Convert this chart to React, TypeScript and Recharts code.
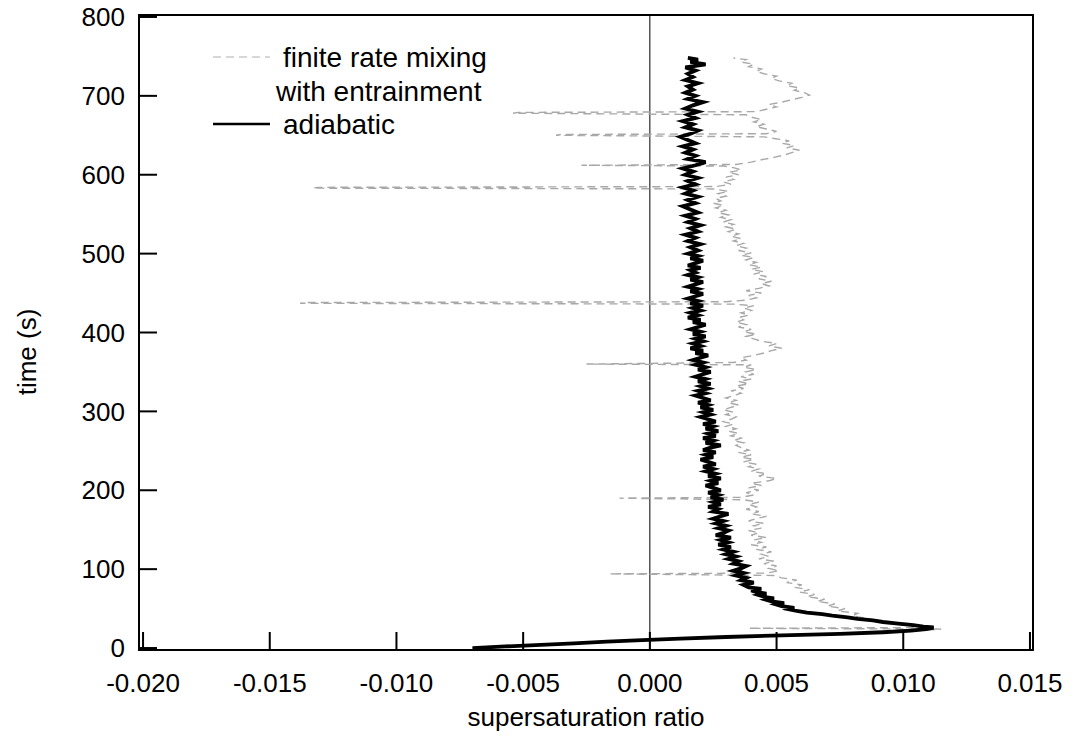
import React from 'react';
import { ScatterChart, Scatter, XAxis, YAxis, ReferenceLine, ReferenceArea, Legend } from 'recharts';

// time (s) vs supersaturation ratio
const adiabaticTime = [
  0, 2, 4, 6, 8, 10, 12, 14, 16, 18, 20, 22, 24, 26, 27, 29, 31, 33, 35, 37, 39, 41, 43, 45, 47, 49,
  51, 53, 55, 57, 59, 61, 63, 65, 67, 69, 71, 73, 75, 77, 80, 83, 86, 89, 92, 95, 98, 101, 104, 107,
  110, 113, 116, 119, 122, 125, 128, 131, 134, 137, 140, 143, 146, 149, 152, 155, 158, 161, 164, 167,
  170, 173, 176, 179, 182, 185, 188, 191, 194, 197, 200, 203, 206, 209, 212, 215, 218, 221, 224, 227,
  230, 233, 236, 239, 242, 245, 248, 251, 254, 257, 260, 263, 266, 269, 272, 275, 278, 281, 284, 287,
  290, 293, 296, 299, 302, 305, 308, 311, 314, 317, 320, 323, 326, 329, 332, 335, 338, 341, 344, 347,
  350, 353, 356, 359, 362, 365, 368, 371, 374, 377, 380, 383, 386, 389, 392, 395, 398, 401, 404, 407,
  410, 413, 416, 419, 422, 425, 428, 431, 434, 437, 440, 443, 446, 449, 452, 455, 458, 461, 464, 467,
  470, 473, 476, 479, 482, 485, 488, 491, 494, 497, 500, 504, 508, 512, 516, 520, 524, 528, 532, 536,
  540, 544, 548, 552, 556, 560, 564, 568, 572, 576, 580, 584, 588, 592, 596, 600, 604, 608, 612, 616,
  620, 624, 628, 632, 636, 640, 644, 648, 652, 656, 660, 664, 668, 672, 676, 680, 684, 688, 692, 696,
  700, 704, 708, 712, 716, 720, 724, 728, 732, 736, 740, 743, 746, 748,
];
const adiabaticRatio = [
  -0.007, -0.0057, -0.0043, -0.003, -0.0017, -0.0003, 0.0012, 0.003, 0.0052, 0.0075, 0.0092, 0.0103, 0.0109, 0.0112, 0.0108, 0.0104, 0.0098, 0.0092, 0.0088, 0.0082, 0.0078, 0.0072, 0.0068, 0.0062, 0.0058, 0.0055,
  0.0057, 0.0052, 0.005, 0.0053, 0.0048, 0.0046, 0.0049, 0.0045, 0.0043, 0.0046, 0.0042, 0.004, 0.0044, 0.0039, 0.0037, 0.0041, 0.0036, 0.0038, 0.0034, 0.0037, 0.0033, 0.0036, 0.0038, 0.0033,
  0.0035, 0.0031, 0.0034, 0.003, 0.0033, 0.0029, 0.0032, 0.0027, 0.0031, 0.0028, 0.0032, 0.0026, 0.0029, 0.0031, 0.0027, 0.003, 0.0026, 0.0029, 0.0025, 0.0028,
  0.0031, 0.0025, 0.0027, 0.0023, 0.0028, 0.0025, 0.0029, 0.0024, 0.0027, 0.0023, 0.0028, 0.0025, 0.0022, 0.0027, 0.0024, 0.0028, 0.0023, 0.0026, 0.0022, 0.0025,
  0.0021, 0.0026, 0.0023, 0.002, 0.0025, 0.0022, 0.0026, 0.0021, 0.0024, 0.0028, 0.0022, 0.0025, 0.0021, 0.0026, 0.0023, 0.0027, 0.0022, 0.0025, 0.0021, 0.0026,
  0.0023, 0.002, 0.0024, 0.0021, 0.0025, 0.002, 0.0023, 0.0019, 0.0024, 0.0021, 0.0018, 0.0022, 0.0019, 0.0023, 0.002, 0.0024, 0.0019, 0.0022, 0.0018, 0.0021,
  0.0024, 0.0019, 0.0022, 0.0018, 0.0021, 0.0017, 0.002, 0.0023, 0.0018, 0.0021, 0.0016, 0.002, 0.0017, 0.0021, 0.0018, 0.0022, 0.0017, 0.002, 0.0016, 0.0019,
  0.0022, 0.0017, 0.002, 0.0015, 0.0019, 0.0016, 0.002, 0.0017, 0.0021, 0.0016, 0.0019, 0.0015, 0.0018, 0.0021, 0.0016, 0.0019, 0.0015, 0.0018, 0.0021, 0.0016,
  0.0019, 0.0015, 0.0018, 0.0016, 0.002, 0.0015, 0.0018, 0.0021, 0.0016, 0.0019, 0.0015, 0.0019, 0.0016, 0.002, 0.0015, 0.0018, 0.0014, 0.0019, 0.0016, 0.002,
  0.0015, 0.0018, 0.0014, 0.0019, 0.0016, 0.0013, 0.0018, 0.0015, 0.0019, 0.0014, 0.0017, 0.0013, 0.0018, 0.0015, 0.0019, 0.0014, 0.0017, 0.0013, 0.0018, 0.0022,
  0.0015, 0.0018, 0.0014, 0.0017, 0.0013, 0.0018, 0.0015, 0.0012, 0.0016, 0.0019, 0.0014, 0.0017, 0.0013, 0.0018, 0.0015, 0.0019, 0.0014, 0.0017, 0.0021, 0.0015,
  0.0018, 0.0014, 0.0017, 0.0015, 0.0019, 0.0014, 0.0017, 0.0015, 0.0018, 0.0014, 0.0022, 0.0016, 0.0019, 0.0015,
];

const mixingTime = [
  0, 4, 8, 12, 16, 20, 22, 24, 25, 26, 29, 32, 35, 38, 41, 44, 47, 50, 53, 56, 59, 62, 65, 68, 71, 74,
  77, 80, 83, 86, 89, 92, 94, 95, 98, 101, 104, 107, 110, 113, 116, 119, 122, 125, 128, 131, 134, 137,
  140, 143, 146, 149, 152, 155, 158, 161, 164, 167, 170, 173, 176, 179, 182, 185, 188, 190, 191, 194,
  197, 200, 203, 206, 209, 212, 215, 218, 221, 224, 227, 230, 233, 236, 239, 242, 245, 248, 251, 254,
  257, 260, 263, 266, 269, 272, 275, 278, 281, 284, 287, 290, 293, 296, 299, 302, 305, 308, 311, 314,
  317, 320, 323, 326, 329, 332, 335, 338, 341, 344, 347, 350, 353, 356, 359, 360, 362, 365, 368, 371,
  374, 377, 380, 383, 386, 389, 392, 395, 398, 401, 404, 407, 410, 413, 416, 419, 422, 425, 428, 431,
  434, 436, 437, 438, 439, 441, 444, 447, 450, 453, 456, 459, 462, 465, 468, 471, 474, 477, 480, 483,
  486, 489, 492, 495, 498, 501, 504, 507, 510, 513, 516, 519, 522, 525, 528, 531, 534, 537, 540, 543,
  546, 549, 552, 555, 558, 561, 564, 567, 570, 573, 576, 579, 582, 583, 584, 585, 588, 591, 594, 597,
  600, 603, 606, 609, 611, 612, 613, 616, 619, 622, 625, 628, 631, 634, 637, 640, 643, 646, 648, 650,
  651, 652, 655, 658, 661, 664, 667, 670, 673, 676, 678, 679, 680, 683, 686, 689, 692, 695, 698, 701,
  704, 707, 710, 713, 716, 719, 722, 725, 728, 731, 734, 737, 740, 743, 746, 748,
];
const mixingRatio = [
  -0.007, -0.0043, -0.0017, 0.0012, 0.0052, 0.0094, 0.0106, 0.0115, 0.0039, 0.0108, 0.0101, 0.0094, 0.0089, 0.0085, 0.008, 0.0082, 0.0074, 0.0077, 0.007, 0.0073, 0.0066, 0.0069, 0.0062, 0.0065, 0.0059, 0.0063,
  0.0057, 0.006, 0.0054, 0.0058, 0.0052, 0.0049, -0.0016, 0.0046, 0.0051, 0.0047, 0.005, 0.0045, 0.0049, 0.0043, 0.0047, 0.0044, 0.0048, 0.0042, 0.0046, 0.004, 0.0044, 0.0041,
  0.0046, 0.004, 0.0043, 0.0039, 0.0044, 0.0041, 0.0045, 0.0039, 0.0042, 0.0046, 0.004, 0.0043, 0.0038, 0.0042, 0.0039, 0.0043, 0.0037, -0.0012, 0.0036, 0.0041,
  0.0038, 0.0043, 0.0039, 0.0044, 0.004, 0.0047, 0.005, 0.0043, 0.0046, 0.004, 0.0043, 0.0039, 0.0042, 0.0037, 0.0041, 0.0036, 0.004, 0.0035, 0.0039, 0.0036,
  0.0034, 0.0037, 0.0033, 0.0036, 0.0032, 0.0035, 0.0031, 0.0034, 0.003, 0.0033, 0.0029, 0.0032, 0.0034, 0.003, 0.0033, 0.0029, 0.0032, 0.0035, 0.0031, 0.0034,
  0.003, 0.0033, 0.0036, 0.0032, 0.0037, 0.0034, 0.0039, 0.0035, 0.004, 0.0036, 0.0041, 0.0038, 0.0042, 0.0037, 0.004, -0.0025, 0.0033, 0.0038, 0.0036, 0.0041,
  0.0045, 0.0048, 0.0052, 0.0047, 0.005, 0.0044, 0.0041, 0.0038, 0.0042, 0.0037, 0.004, 0.0035, 0.0038, 0.0034, 0.0037, 0.0035, 0.0039, 0.0036, 0.004, 0.0037,
  0.0041, 0.0033, -0.0138, -0.0136, 0.003, 0.0038, 0.0042, 0.0039, 0.0044, 0.0038, 0.0043, 0.0047, 0.0044, 0.0048, 0.0043, 0.0046, 0.0041, 0.0045, 0.004, 0.0044,
  0.0039, 0.0042, 0.0038, 0.0041, 0.0036, 0.004, 0.0035, 0.0038, 0.0034, 0.0037, 0.0033, 0.0036, 0.0032, 0.0035, 0.0031, 0.0034, 0.003, 0.0033, 0.0029, 0.0032,
  0.0028, 0.0031, 0.0027, 0.003, 0.0026, 0.0029, 0.0025, 0.0028, 0.0026, 0.003, 0.0027, 0.0031, 0.0025, -0.0133, -0.0131, 0.0026, 0.0032, 0.0029, 0.0033, 0.003,
  0.0035, 0.0031, 0.0036, 0.0033, 0.0029, -0.0027, 0.0034, 0.004, 0.0044, 0.0049, 0.0053, 0.0056, 0.0059, 0.0054, 0.0057, 0.0052, 0.0055, 0.0049, 0.0045, -0.0037,
  -0.0035, 0.0046, 0.005, 0.0046, 0.0042, 0.0045, 0.0041, 0.0044, 0.004, 0.0038, -0.0054, -0.0052, 0.0042, 0.0046, 0.005, 0.0047, 0.0052, 0.0056, 0.006, 0.0063,
  0.0061, 0.0057, 0.0059, 0.0054, 0.0056, 0.0051, 0.0048, 0.005, 0.0045, 0.0042, 0.0044, 0.0039, 0.0041, 0.0036, 0.0038, 0.0033,
];

const ratioTicks = [-0.02, -0.015, -0.01, -0.005, 0, 0.005, 0.01, 0.015];
const timeTicks = [0, 100, 200, 300, 400, 500, 600, 700, 800];

const adiabatic = adiabaticTime.map((t, i) => ({ t, s: adiabaticRatio[i] }));
const mixing = mixingTime.map((t, i) => ({ t, s: mixingRatio[i] }));

// frame sits a few px outside the labelled range, like the original
const X_MIN = -0.02016;
const X_MAX = 0.01512;
const Y_MIN = -2.5;
const Y_MAX = 802.5;

const FONT = 'Liberation Sans, Arial, sans-serif';
const FS = 26;
const LEGEND_FS = 28;
const TICK_LEN = 18;

const XTick = (props: any) => {
  const { x, y, payload } = props;
  return (
    <g>
      <line x1={x} y1={y} x2={x} y2={y - TICK_LEN} stroke="#000" strokeWidth={2} />
      <text x={x} y={y + 33} dy="0.355em" textAnchor="middle" fontSize={FS} fontFamily={FONT} fill="#000">
        {payload.value.toFixed(3)}
      </text>
    </g>
  );
};

const YTick = (props: any) => {
  const { x, y, payload } = props;
  return (
    <g>
      <line x1={x} y1={y} x2={x + TICK_LEN} y2={y} stroke="#000" strokeWidth={2} />
      <text x={x - 14} y={y} dy="0.355em" textAnchor="end" fontSize={FS} fontFamily={FONT} fill="#000">
        {payload.value}
      </text>
    </g>
  );
};

const XTitle = ({ viewBox }: any) => (
  <text x={viewBox.x + viewBox.width / 2} y={viewBox.y + 67} dy="0.355em" textAnchor="middle"
    fontSize={FS} fontFamily={FONT} fill="#000">
    supersaturation ratio
  </text>
);

const YTitle = ({ viewBox }: any) => {
  const cx = viewBox.x - 12;
  const cy = viewBox.y + 337;
  return (
    <text x={cx} y={cy} dy="0.355em" textAnchor="middle" transform={`rotate(-90 ${cx} ${cy})`}
      fontSize={FS} fontFamily={FONT} fill="#000">
      time (s)
    </text>
  );
};

const LegendBox = () => (
  <svg width={520} height={140} style={{ overflow: 'visible' }}>
    <line x1={213} y1={57} x2={270} y2={57} stroke="#b0b0b0" strokeWidth={1.2} strokeDasharray="8 5" />
    <text x={283} y={57} dy="0.355em" fontSize={LEGEND_FS} fontFamily={FONT} fill="#000">finite rate mixing</text>
    <text x={276} y={91} dy="0.355em" fontSize={LEGEND_FS} fontFamily={FONT} fill="#000">with entrainment</text>
    <line x1={213} y1={124} x2={270} y2={124} stroke="#000" strokeWidth={2.5} />
    <text x={283} y={124} dy="0.355em" fontSize={LEGEND_FS} fontFamily={FONT} fill="#000">adiabatic</text>
  </svg>
);

const noDot = () => null;

export default function App() {
  return (
    <div style={{ width: 1083, height: 741, margin: '-8px 0 0 -8px', background: '#fff' }}>
      <ScatterChart width={1083} height={741} margin={{ top: 15, right: 50, bottom: 31, left: 39 }}>
        <XAxis
          type="number"
          dataKey="s"
          domain={[X_MIN, X_MAX]}
          ticks={ratioTicks}
          interval={0}
          allowDataOverflow
          axisLine={{ stroke: '#000', strokeWidth: 2 }}
          tickLine={false}
          tickSize={0}
          tickMargin={0}
          tick={<XTick />}
          height={60}
          label={<XTitle />}
        />
        <YAxis
          type="number"
          dataKey="t"
          domain={[Y_MIN, Y_MAX]}
          ticks={timeTicks}
          interval={0}
          allowDataOverflow
          axisLine={{ stroke: '#000', strokeWidth: 2 }}
          tickLine={false}
          tickSize={0}
          tickMargin={0}
          tick={<YTick />}
          width={100}
          label={<YTitle />}
        />
        <ReferenceArea x1={X_MIN} x2={X_MAX} y1={Y_MIN} y2={Y_MAX} fill="none" fillOpacity={0}
          stroke="#000" strokeWidth={2} strokeOpacity={1} ifOverflow="visible" />
        <ReferenceLine x={0} stroke="#000" strokeWidth={1} />
        <Scatter
          name="finite rate mixing with entrainment"
          data={mixing}
          fill="none"
          shape={noDot}
          line={{ stroke: '#a8a8a8', strokeWidth: 1.4, strokeDasharray: '8 5' }}
          lineJointType="linear"
          isAnimationActive={false}
        />
        <Scatter
          name="adiabatic"
          data={adiabatic}
          fill="none"
          shape={noDot}
          line={{ stroke: '#000', strokeWidth: 3.8 }}
          lineJointType="linear"
          isAnimationActive={false}
        />
        <Legend
          layout="horizontal"
          verticalAlign="middle"
          align="center"
          content={<LegendBox />}
          wrapperStyle={{ top: 0, left: 0, width: 520, height: 140 }}
        />
      </ScatterChart>
    </div>
  );
}
